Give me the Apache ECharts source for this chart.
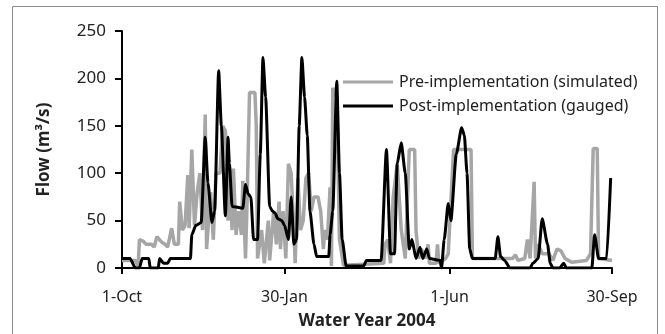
<!DOCTYPE html>
<html>
<head>
<meta charset="utf-8">
<script src="https://cdn.jsdelivr.net/npm/echarts@6/dist/echarts.min.js"></script>
<style>
  html, body { margin: 0; padding: 0; background: #fff; }
  #chart { width: 665px; height: 334px; }
</style>
</head>
<body>
<div id="chart"></div>
<script>
// day 0 = 1-Oct-2003, day 365 = 30-Sep-2004
const dayCount = 366;
const tickDays = [0, 121, 244, 365];
const tickLabels = ["1-Oct", "30-Jan", "1-Jun", "30-Sep"];

// [day, flow m3/s]
const preSimulated = [
  [0, 8], [10, 8], [12, 2], [13, 30], [16, 28], [18, 25], [22, 25], [24, 22], [26, 33],
  [29, 28], [32, 25], [34, 22], [37, 42], [39, 25], [42, 25], [43, 70], [45, 40], [47, 45],
  [49, 98], [50, 42], [52, 125], [53, 125], [54, 45], [56, 80], [58, 100], [60, 40],
  [62, 162], [63, 20], [65, 60], [66, 80], [68, 30], [70, 100], [73, 100], [75, 150],
  [77, 145], [79, 50], [80, 110], [82, 40], [83, 105], [85, 35], [87, 60], [89, 35],
  [90, 92], [92, 10], [93, 60], [95, 185], [99, 185], [100, 150], [101, 10], [104, 40],
  [106, 5], [109, 50], [110, 8], [113, 60], [115, 25], [117, 70], [118, 20], [120, 60],
  [122, 10], [124, 110], [126, 100], [128, 40], [129, 5], [131, 95], [133, 40], [135, 50],
  [137, 95], [139, 100], [141, 60], [143, 75], [146, 75], [148, 60], [150, 20], [151, 40],
  [153, 30], [155, 85], [156, 2], [157, 190], [160, 180], [162, 30], [165, 3], [195, 5],
  [196, 25], [198, 30], [200, 5], [202, 75], [205, 110], [208, 40], [211, 10], [214, 125],
  [218, 125], [219, 40], [221, 10], [223, 20], [226, 10], [228, 25], [229, 5], [234, 5],
  [235, 25], [236, 5], [241, 10], [243, 15], [247, 125], [260, 125], [261, 10], [291, 10],
  [293, 14], [295, 8], [300, 10], [302, 30], [304, 10], [307, 91], [308, 10], [310, 25],
  [313, 15], [318, 15], [321, 8], [324, 20], [327, 18], [330, 10], [335, 6], [346, 8],
  [349, 15], [351, 126], [354, 126], [355, 10], [365, 8]
];

const postGauged = [
  [0, 10], [6, 10], [10, 0], [13, 0], [15, 10], [20, 10], [21, 0], [27, 0], [28, 10],
  [31, 5], [34, 5], [36, 10], [51, 10], [52, 35], [55, 45], [59, 48], [62, 138], [64, 90],
  [67, 48], [69, 60], [72, 208], [74, 150], [77, 55], [79, 138], [80, 110], [82, 65],
  [90, 63], [92, 88], [94, 78], [96, 75], [98, 30], [101, 30], [103, 120], [105, 222],
  [107, 180], [110, 65], [112, 60], [114, 58], [116, 52], [119, 50], [121, 45], [124, 30],
  [126, 75], [128, 25], [130, 30], [132, 150], [134, 222], [136, 180], [138, 140],
  [140, 60], [143, 25], [145, 12], [154, 12], [155, 35], [157, 60], [160, 197], [162, 100],
  [164, 30], [167, 2], [180, 2], [182, 8], [193, 8], [197, 125], [200, 15], [203, 15],
  [205, 110], [208, 132], [211, 100], [214, 20], [216, 30], [219, 10], [222, 22], [224, 10],
  [227, 20], [229, 10], [237, 8], [238, 0], [240, 30], [243, 68], [245, 50], [249, 120],
  [253, 148], [255, 140], [257, 100], [259, 20], [261, 10], [278, 10], [280, 33], [282, 12],
  [285, 8], [289, 0], [304, 0], [306, 5], [310, 10], [313, 52], [317, 25], [319, 5],
  [321, 0], [326, 0], [329, 5], [331, 0], [350, 0], [352, 35], [355, 10], [361, 10],
  [364, 95]
];

const days = Array.from({ length: dayCount }, (_, i) => i);
const isTick = (i) => tickDays.indexOf(i) >= 0;

const chart = echarts.init(document.getElementById("chart"));
const font = "'Noto Sans', 'Open Sans', sans-serif";

chart.setOption({
  animation: false,
  backgroundColor: "#fff",
  textStyle: { fontFamily: font },
  graphic: [{
    type: "rect",
    shape: { x: 12.5, y: 6.5, width: 645, height: 340 },
    style: { fill: "none", stroke: "#8c8c8c", lineWidth: 1 },
    silent: true
  }],
  grid: { left: 122, right: 53, top: 31, bottom: 66, outerBoundsMode: "none" },
  legend: {
    orient: "vertical",
    left: 338,
    top: 69,
    icon: "rect",
    itemWidth: 50,
    itemHeight: 3,
    itemGap: 8,
    textStyle: { fontFamily: font, fontSize: 16, color: "#222", padding: [0, 0, 0, 1] },
    data: ["Pre-implementation (simulated)", "Post-implementation (gauged)"]
  },
  xAxis: {
    type: "category",
    data: days,
    boundaryGap: false,
    name: "Water Year 2004",
    nameLocation: "middle",
    nameGap: 45,
    nameTextStyle: { fontFamily: font, fontSize: 17, fontWeight: "bold", color: "#222" },
    axisLine: { lineStyle: { color: "#000", width: 2 } },
    axisTick: { interval: (i) => isTick(i), length: 6, lineStyle: { color: "#000", width: 2 } },
    axisLabel: {
      interval: (i) => isTick(i),
      formatter: (v) => tickLabels[tickDays.indexOf(Number(v))],
      margin: 21,
      fontSize: 16,
      color: "#222"
    },
    splitLine: { show: false }
  },
  yAxis: {
    type: "value",
    min: 0,
    max: 250,
    interval: 50,
    name: "Flow (m³/s)",
    nameLocation: "middle",
    nameGap: 69,
    nameTextStyle: { fontFamily: font, fontSize: 17, fontWeight: "bold", color: "#222" },
    axisLine: { show: true, lineStyle: { color: "#000", width: 2 } },
    axisTick: { show: true, length: 7, lineStyle: { color: "#000", width: 2 } },
    axisLabel: { margin: 16, fontSize: 17, color: "#222" },
    splitLine: { show: false }
  },
  series: [
    {
      name: "Pre-implementation (simulated)",
      type: "line",
      data: preSimulated,
      symbol: "none",
      lineStyle: { color: "#a6a6a6", width: 3.5 },
      itemStyle: { color: "#a6a6a6" }
    },
    {
      name: "Post-implementation (gauged)",
      type: "line",
      data: postGauged,
      symbol: "none",
      smooth: 0.2,
      smoothMonotone: "x",
      lineStyle: { color: "#000", width: 3 },
      itemStyle: { color: "#000" }
    }
  ]
});
</script>
</body>
</html>
